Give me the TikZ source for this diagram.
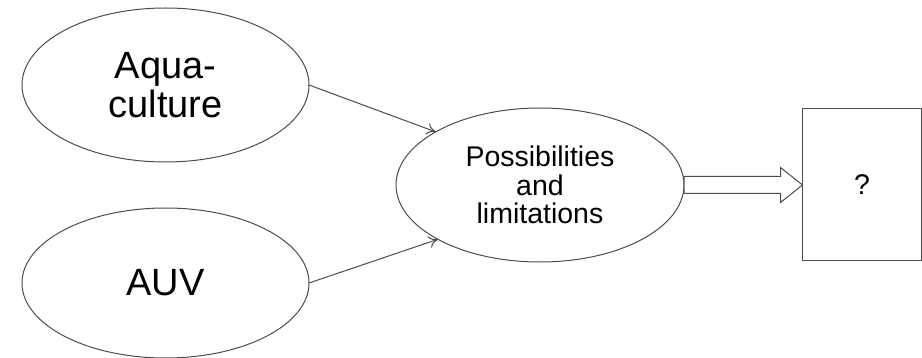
\documentclass[tikz,border=0pt]{standalone}
\usepackage{fontspec}
\setmainfont{Liberation Sans}
\usetikzlibrary{shapes.geometric,arrows.meta,calc}
\begin{document}
\begin{tikzpicture}[x=1pt,y=-1pt,
  line/.style={draw=black!70, line width=1pt},
  oval/.style={line, ellipse, inner sep=0pt, outer sep=0pt, align=center,
    minimum width=287pt, minimum height=154pt},
  bigtext/.style={font=\fontsize{38}{39}\selectfont},
  midtext/.style={font=\fontsize{28.5}{28.5}\selectfont},
  qbox/.style={line, rectangle, inner sep=0pt, outer sep=0pt,
    minimum width=119pt, minimum height=152pt, font=\fontsize{28.5}{28.5}\selectfont},
  conn/.style={line, -{To[length=9pt,width=12pt]}},
  fatarrow/.style={line, fill=white, line join=miter}]
\useasboundingbox (0,0) rectangle (922,358);
\node[oval, bigtext] (aqua) at (165.5,85) {Aqua-\\culture};
\node[oval, bigtext, minimum height=150pt] (auv) at (165.5,283) {AUV};
\node[oval, midtext, minimum width=288pt] (pos) at (540,185) {Possibilities\\and\\limitations};
\node[qbox] (q) at (862,185) {?};
\draw[conn] (aqua.east) -- (pos.153);
\draw[conn] (auv.east) -- (pos.208);
\draw[fatarrow] ($(pos.east)+(0,-8.5)$) -- ($(q.west)+(-22,-8.5)$) -- ($(q.west)+(-22,-17.5)$)
  -- (q.west) -- ($(q.west)+(-22,17.5)$) -- ($(q.west)+(-22,8.5)$) -- ($(pos.east)+(0,8.5)$) -- cycle;
\end{tikzpicture}
\end{document}
